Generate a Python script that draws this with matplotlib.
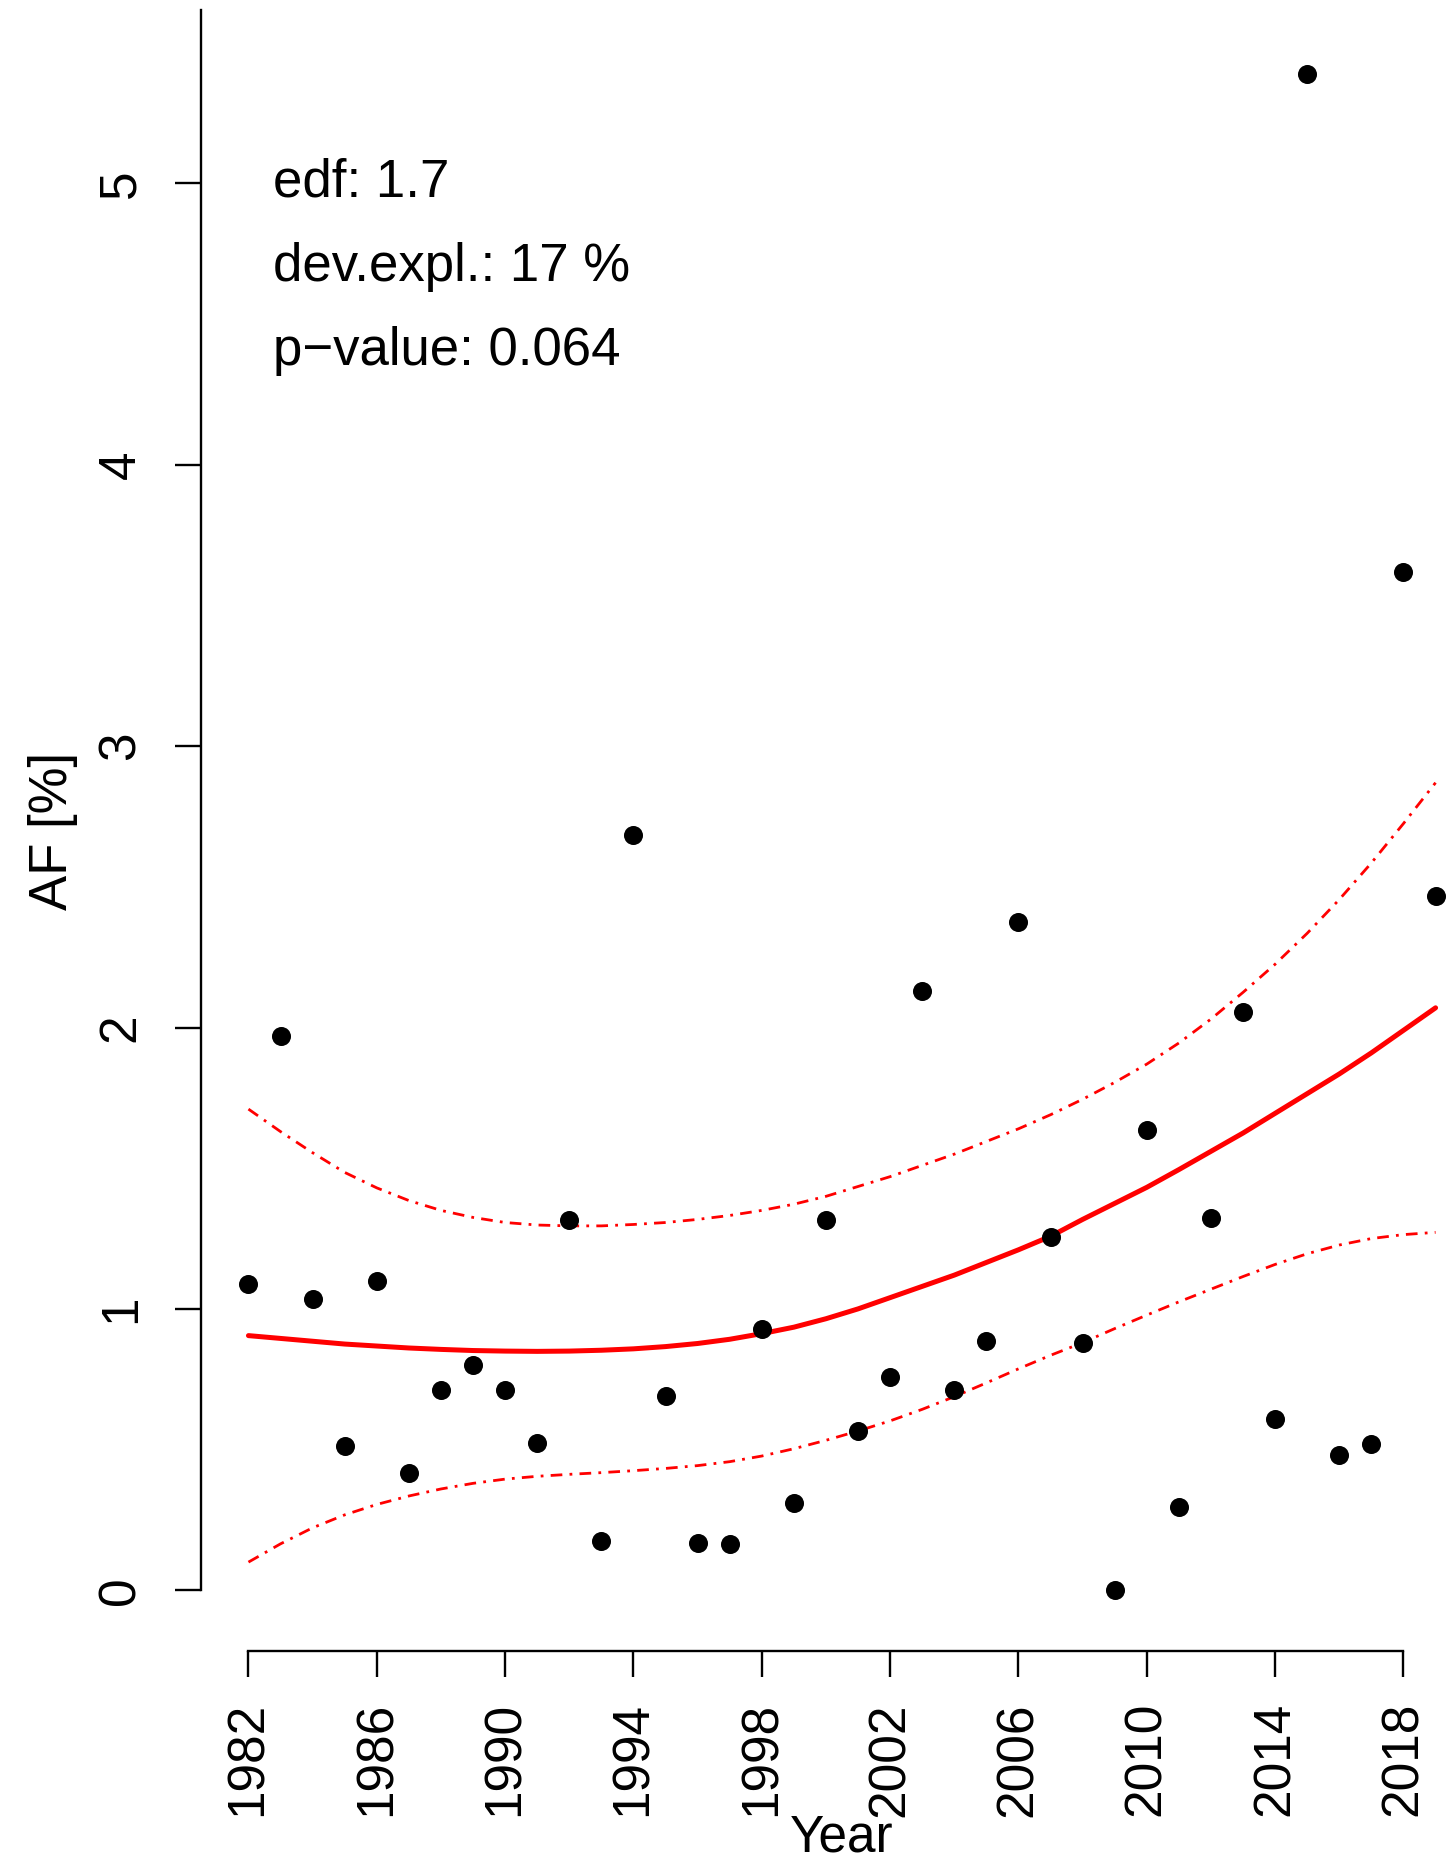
import matplotlib
matplotlib.use('Agg')
import matplotlib.pyplot as plt

plt.rcParams['font.family'] = ['Liberation Sans', 'DejaVu Sans']

# observed AF per year
years = list(range(1982, 2020))
af = [1.09, 1.97, 1.035, 0.513, 1.10, 0.418, 0.713, 0.80, 0.713, 0.523,
      1.316, 0.174, 2.683, 0.69, 0.167, 0.163, 0.927, 0.311, 1.316, 0.566,
      0.757, 2.131, 0.711, 0.886, 2.376, 1.255, 0.879, 0.0, 1.635, 0.296,
      1.322, 2.056, 0.61, 5.389, 0.48, 0.519, 3.62, 2.468]

# GAM fit and confidence band, read per year
fit = [0.905, 0.895, 0.885, 0.875, 0.868, 0.861, 0.856, 0.852, 0.850, 0.849,
       0.850, 0.853, 0.858, 0.866, 0.877, 0.892, 0.912, 0.935, 0.965, 1.000,
       1.040, 1.080, 1.120, 1.165, 1.210, 1.258, 1.318, 1.375, 1.432, 1.495,
       1.560, 1.625, 1.695, 1.765, 1.835, 1.910, 1.990, 2.070]
upper = [1.71, 1.63, 1.555, 1.485, 1.43, 1.385, 1.35, 1.325, 1.307, 1.298,
         1.295, 1.295, 1.30, 1.307, 1.318, 1.332, 1.35, 1.372, 1.40, 1.435,
         1.47, 1.51, 1.55, 1.595, 1.64, 1.69, 1.745, 1.805, 1.87, 1.945,
         2.03, 2.125, 2.225, 2.335, 2.455, 2.585, 2.725, 2.87]
lower = [0.10, 0.165, 0.222, 0.268, 0.305, 0.335, 0.36, 0.38, 0.395, 0.405,
         0.412, 0.418, 0.425, 0.433, 0.443, 0.457, 0.477, 0.503, 0.533, 0.566,
         0.602, 0.643, 0.688, 0.737, 0.787, 0.835, 0.88, 0.93, 0.978, 1.025,
         1.07, 1.115, 1.158, 1.196, 1.227, 1.25, 1.264, 1.272]

xticks = list(range(1982, 2019, 4))
yticks = [0, 1, 2, 3, 4, 5]
stats = ['edf: 1.7', 'dev.expl.: 17 %', 'p\u2212value: 0.064']

fig = plt.figure(figsize=(14.49, 18.62), dpi=100)
# plot region runs past the right edge, like the cropped original
ax = fig.add_axes([0.1387, 0.1133, 0.8848, 0.8813])

ax.plot(years, fit, color='red', lw=3.6, solid_capstyle='round')
for band in (upper, lower):
    ax.plot(years, band, color='red', lw=2.0, dashes=(4.2, 2.6, 1.0, 2.6))
ax.plot(years, af, 'o', color='black', markersize=13.7, markeredgewidth=0)

# R style axes: 4% padding
ax.set_xlim(1980.52, 2020.48)
ax.set_ylim(-0.216, 5.616)

for s in ['top', 'right']:
    ax.spines[s].set_visible(False)
ax.spines['left'].set_bounds(0, 5.616)
ax.spines['bottom'].set_bounds(1982, 2018)
ax.spines['left'].set_linewidth(1.7)
ax.spines['bottom'].set_linewidth(1.7)

ax.set_xticks(xticks)
ax.set_xticklabels([str(t) for t in xticks], rotation=90, fontsize=37)
ax.set_yticks(yticks)
ax.set_yticklabels([str(t) for t in yticks], rotation=90, va='center', fontsize=37)
ax.tick_params(axis='x', length=18.7, width=1.7, pad=18)
ax.tick_params(axis='y', length=18.7, width=1.7, pad=21)

ax.set_xlabel('Year', fontsize=37)
ax.xaxis.label.set_va('center')
ax.xaxis.set_label_coords(0.5, -0.114)
ax.set_ylabel('AF [%]', fontsize=38)
ax.yaxis.label.set_va('center')
ax.yaxis.set_label_coords(-0.1154, 0.5)

for txt, yb in zip(stats, [0.8947, 0.8491, 0.8040]):
    fig.text(0.1884, yb, txt, fontsize=38, va='baseline', ha='left')

fig.savefig('out.png', dpi=100)
